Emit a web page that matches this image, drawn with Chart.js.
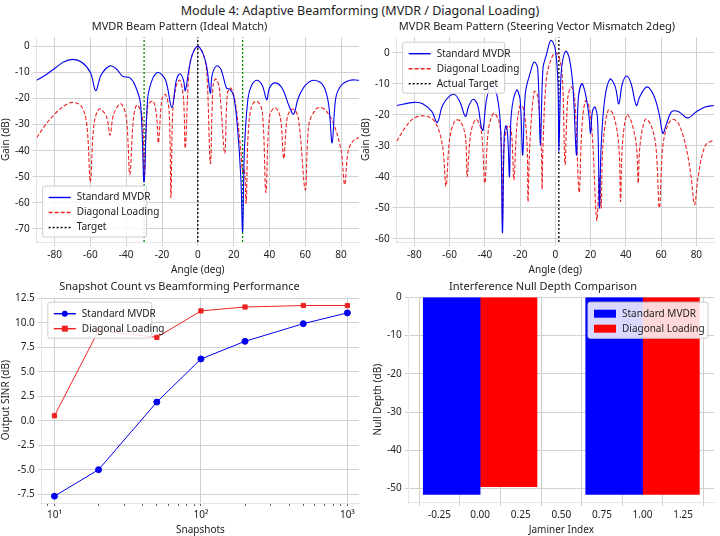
<!DOCTYPE html>
<html><head><meta charset="utf-8">
<script src="https://cdn.jsdelivr.net/npm/chart.js@4"></script>
<style>
body{margin:0;background:#fff;width:720px;height:536px;position:relative;font-family:"Noto Sans",sans-serif;overflow:hidden}
#title{position:absolute;top:2px;left:0;width:720px;text-align:center;font-size:12.5px;color:#222}
canvas{position:absolute}
</style></head><body>
<div id="title">Module 4: Adaptive Beamforming (MVDR / Diagonal Loading)</div>
<canvas id="c1" style="left:0;top:20px;width:365px;height:256px" width="365" height="256"></canvas>
<canvas id="c2" style="left:360px;top:20px;width:360px;height:256px" width="360" height="256"></canvas>
<canvas id="c3" style="left:0;top:278px;width:365px;height:258px" width="365" height="258"></canvas>
<canvas id="c4" style="left:360px;top:278px;width:360px;height:258px" width="360" height="258"></canvas>
<script>
const ideal_std=[[-90,-13],[-85,-11],[-80,-8.5],[-75,-6],[-70,-5],[-65,-6],[-60,-10],[-57,-17],[-54,-11],[-49,-7.5],[-45,-9],[-42,-11.5],[-38,-12],[-35,-15],[-32,-22],[-30,-52],[-28,-20],[-25,-12],[-22,-10],[-18,-13],[-14.5,-23.5],[-12,-13],[-10,-10.5],[-8,-13],[-7,-17],[-5,-9],[-3,-3],[0,0],[3,-3],[5,-8],[7,-18],[8,-11],[10.5,-7.5],[13,-9],[16,-16],[18,-16.5],[20,-19],[22,-30],[24,-50],[25,-71],[26,-40],[28,-20],[30,-15],[33,-13],[36,-15],[38.5,-20.5],[40,-16],[43,-14],[47,-16],[51,-23],[53.5,-26],[56,-20],[60,-15],[65,-13],[70,-15],[73,-22],[75,-37],[77,-20],[80,-15],[85,-13],[90,-13]];
const ideal_dl=[[-90,-35],[-85,-30],[-80,-26],[-75,-23],[-70,-21.5],[-65,-23],[-62,-30],[-60,-52],[-58,-30],[-55,-24],[-51,-27],[-49,-34],[-47,-26],[-43,-22],[-40,-27],[-38,-49],[-36,-28],[-34,-22.5],[-31,-27],[-30,-52],[-28,-23],[-25,-21],[-23,-27],[-22,-37],[-20,-20],[-18,-18.5],[-16,-25],[-15,-58],[-14,-25],[-12,-15],[-10,-13],[-8,-20],[-7,-39],[-5,-10],[-3,-3],[0,0],[3,-3],[5,-10],[7,-45],[8.5,-15],[10,-12.5],[12,-16],[15,-41],[16.5,-18],[18.5,-16],[21,-22],[24,-40],[25,-48],[26,-47],[27,-60],[28,-35],[30,-23],[33,-21],[36,-25],[38,-56],[40,-27],[43,-23.5],[46,-27],[48,-43],[50,-27],[53,-24],[56,-27],[60,-55],[62,-30],[66,-24],[69,-23.5],[72,-25],[76,-30],[80,-40],[82,-53],[84,-40],[87,-36],[90,-35]];
const mis_std=[[-90,-17],[-80,-16],[-75,-16.5],[-70,-19],[-67,-22.5],[-64,-17],[-60,-14],[-57,-13.5],[-54,-16],[-51,-20.5],[-49,-17],[-46.5,-15],[-44,-17],[-42,-24],[-41,-25],[-39,-15],[-36,-10.5],[-33,-14],[-31,-25],[-30,-58],[-29,-27],[-28,-23.5],[-27,-27],[-26,-40],[-25,-20],[-22,-12],[-20,-15],[-18.5,-33],[-17,-13],[-14,-6],[-12,-3],[-10,-5],[-8.5,-30],[-7,-5],[-5,-0.5],[-2.5,4],[0,1],[1.5,-10],[2,-32],[3,-10],[4,-3],[6,0.5],[8,-2],[10,-11],[12,-33],[13,-15],[15,-10],[17,-13],[19,-20],[20,-26],[21,-19],[22.5,-17.5],[24,-22],[25,-50],[26,-30],[28,-15],[31,-8.5],[34,-11],[36,-16.5],[38,-10],[40.5,-7.5],[43,-10],[46,-17],[48,-14],[52,-11],[56,-14],[59,-20],[61,-26],[63,-23],[66,-19],[70,-19],[75,-21],[80,-19],[85,-17.5],[90,-17]];
const mis_dl=[[-90,-28.5],[-85,-24],[-80,-21],[-73,-20.5],[-68,-22.5],[-64,-30],[-62,-43],[-60,-28],[-57,-22],[-54,-22],[-51,-27],[-50,-40],[-48,-26],[-45,-21.5],[-42,-25],[-40,-42],[-38,-25],[-35,-19.5],[-32,-22],[-30.5,-30],[-30,-55],[-29,-30],[-27,-23.5],[-25,-25],[-23.5,-41],[-22,-25],[-20,-17],[-18,-18],[-16,-30],[-15.5,-48],[-14.5,-30],[-12,-12.5],[-10,-14],[-8,-30],[-7.5,-44],[-7,-30],[-5,-8],[-2,-1.5],[0,0],[2,-1],[4,-8],[5.5,-36],[7,-15],[9,-11],[11,-15],[13.5,-45],[15,-25],[17,-15.5],[19,-17],[21,-27],[23.5,-54],[25,-40],[26,-50],[27,-30],[30,-18.5],[33,-20],[36,-30],[37,-48],[38,-30],[40.5,-20],[43,-22],[46,-30],[47,-42],[48,-30],[51,-21.5],[54,-23],[57,-30],[59,-50],[61,-30],[64,-23],[67,-21.5],[70,-23],[74,-30],[77,-40],[79,-49],[81,-40],[85,-30],[90,-28]];
const snapshots=[10,20,50,100,200,500,1000];
const sinr_std=[-7.7,-5,1.9,6.3,8.1,9.9,11];
const sinr_dl=[0.5,9.2,8.5,11.2,11.6,11.75,11.75];
const jammerIdx=[0,1];
const null_std=[-51.5,-51.5];
const null_dl=[-49.5,-51.5];
const angleTicks=[-80,-60,-40,-20,0,20,40,60,80];

Chart.defaults.font.family='"Noto Sans",sans-serif';
Chart.defaults.font.size=10;
Chart.defaults.color='#222';
Chart.defaults.animation=false;
const grid={color:'#d0d0d0',drawTicks:true,tickLength:4};
const xy=a=>a.map(p=>({x:p[0],y:p[1]}));
const setTicks=arr=>(s=>{s.ticks=arr.map(v=>({value:v}));});
const vline=(x,lo,hi,c)=>({data:[{x:x,y:lo},{x:x,y:hi}],borderColor:c,borderWidth:1.3,borderDash:[2,2],pointRadius:0});
const titleOpt=t=>({display:true,text:t,font:{size:11,weight:'normal'},padding:{top:0,bottom:4},color:'#222'});

const legendBox={id:'legendBox',afterDraw(ch,a,o){
 const ctx=ch.ctx,ca=ch.chartArea;const items=o.items;if(!items)return;
 ctx.save();ctx.font='10px "Noto Sans",sans-serif';
 const lh=15,w=o.w,h=items.length*lh+6;
 let x=o.pos.includes('l')?ca.left+6:ca.right-6-w;
 let y=o.pos.includes('t')?ca.top+5:ca.bottom-5-h;
 ctx.fillStyle='rgba(255,255,255,0.85)';ctx.strokeStyle='#ccc';ctx.lineWidth=1;
 ctx.beginPath();ctx.roundRect(x,y,w,h,2);ctx.fill();ctx.stroke();
 items.forEach((it,i)=>{const yy=y+4+i*lh+lh/2;
  if(it.box){ctx.fillStyle=it.c;ctx.fillRect(x+6,yy-4,22,8);}
  else{ctx.strokeStyle=it.c;ctx.lineWidth=1.4;ctx.setLineDash(it.d||[]);ctx.beginPath();ctx.moveTo(x+6,yy);ctx.lineTo(x+28,yy);ctx.stroke();ctx.setLineDash([]);
   if(it.m){ctx.fillStyle=it.c;if(it.m==='c'){ctx.beginPath();ctx.arc(x+17,yy,3,0,7);ctx.fill();}else ctx.fillRect(x+14,yy-3,6,6);}}
  ctx.fillStyle='#222';ctx.textBaseline='middle';ctx.fillText(it.t,x+34,yy);});
 ctx.restore();}};

function beam(id,title,std,dl,vlines,ymin,ymax,yt,legend){
 new Chart(document.getElementById(id),{type:'line',
  data:{datasets:[
   {data:xy(std),borderColor:'#0000ee',borderWidth:1.1,pointRadius:0,tension:0.35},
   {data:xy(dl),borderColor:'#ee2222',borderWidth:1.1,borderDash:[4,2],pointRadius:0,tension:0.35},
   ...vlines]},
  options:{responsive:false,layout:{padding:{right:6}},
   plugins:{legend:{display:false},title:titleOpt(title),legendBox:legend},
   scales:{x:{type:'linear',min:-90,max:90,afterBuildTicks:setTicks(angleTicks),grid:grid,title:{display:true,text:'Angle (deg)',padding:0}},
    y:{min:ymin,max:ymax,afterBuildTicks:setTicks(yt),grid:grid,title:{display:true,text:'Gain (dB)',padding:0}}}},
  plugins:[legendBox]});
}
beam('c1','MVDR Beam Pattern (Ideal Match)',ideal_std,ideal_dl,
 [vline(0,-75,3.5,'#000'),vline(-30,-75,3.5,'#008800'),vline(25,-75,3.5,'#008800')],-75,3.5,[-70,-60,-50,-40,-30,-20,-10,0],
 {pos:'bl',w:104,items:[{t:'Standard MVDR',c:'#0000ee'},{t:'Diagonal Loading',c:'#ee2222',d:[4,2]},{t:'Target',c:'#000',d:[2,2]}]});
beam('c2','MVDR Beam Pattern (Steering Vector Mismatch 2deg)',mis_std,mis_dl,
 [vline(2,-61,5,'#000')],-61,5,[-60,-50,-40,-30,-20,-10,0],
 {pos:'tl',w:102,items:[{t:'Standard MVDR',c:'#0000ee'},{t:'Diagonal Loading',c:'#ee2222',d:[4,2]},{t:'Actual Target',c:'#000',d:[2,2]}]});

new Chart(document.getElementById('c3'),{type:'line',
 data:{datasets:[
  {data:snapshots.map((s,i)=>({x:s,y:sinr_std[i]})),borderColor:'#0000ee',backgroundColor:'#0000ee',borderWidth:1,pointRadius:3,pointStyle:'circle'},
  {data:snapshots.map((s,i)=>({x:s,y:sinr_dl[i]})),borderColor:'#ee2222',backgroundColor:'#ee2222',borderWidth:1,pointRadius:3,pointStyle:'rect'}]},
 options:{responsive:false,layout:{padding:{right:6,top:2}},
  plugins:{legend:{display:false},title:titleOpt('Snapshot Count vs Beamforming Performance'),
   legendBox:{pos:'tl',w:104,items:[{t:'Standard MVDR',c:'#0000ee',m:'c'},{t:'Diagonal Loading',c:'#ee2222',m:'s'}]}},
  scales:{x:{type:'logarithmic',min:8.2,max:1200,
    grid:{color:c=>[10,100,1000].includes(c.tick&&c.tick.value)?'#d0d0d0':'rgba(0,0,0,0)',tickColor:'#666',tickLength:c=>3},
    afterBuildTicks:setTicks([9,10,20,30,40,50,60,70,80,90,100,200,300,400,500,600,700,800,900,1000]),
    ticks:{autoSkip:false,maxRotation:0,callback:v=>v===10?'10¹':v===100?'10²':v===1000?'10³':''},title:{display:true,text:'Snapshots',padding:0}},
   y:{min:-8.4,max:12.6,afterBuildTicks:setTicks([-7.5,-5,-2.5,0,2.5,5,7.5,10,12.5]),ticks:{callback:v=>v.toFixed(1)},grid:grid,title:{display:true,text:'Output SINR (dB)',padding:0}}}},
 plugins:[legendBox]});

const c4=new Chart(document.getElementById('c4'),{type:'bar',
 data:{datasets:[
  {data:jammerIdx.map((j,i)=>({x:j-0.175,y:null_std[i]})),backgroundColor:'#0000ff',grouped:false},
  {data:jammerIdx.map((j,i)=>({x:j+0.175,y:null_dl[i]})),backgroundColor:'#ff0000',grouped:false}]},
 options:{responsive:false,layout:{padding:{right:6,top:2,left:12}},
  plugins:{legend:{display:false},title:titleOpt('Interference Null Depth Comparison'),
   legendBox:{pos:'tr',w:120,items:[{t:'Standard MVDR',c:'#0000ff',box:true},{t:'Diagonal Loading',c:'#ff0000',box:true}]}},
  scales:{x:{type:'linear',min:-0.44,max:1.44,offset:false,grid:grid,
    afterBuildTicks:setTicks([-0.25,0,0.25,0.5,0.75,1,1.25]),ticks:{callback:v=>v.toFixed(2)},title:{display:true,text:'Jaminer Index',padding:0}},
   y:{min:-53.5,max:0,afterBuildTicks:setTicks([-50,-40,-30,-20,-10,0]),grid:grid,title:{display:true,text:'Null Depth (dB)',padding:0}}}},
 plugins:[legendBox]});
const xs=c4.scales.x;const bw=xs.getPixelForValue(0.35)-xs.getPixelForValue(0);
c4.data.datasets.forEach(d=>d.barThickness=bw);c4.update();
</script></body></html>
